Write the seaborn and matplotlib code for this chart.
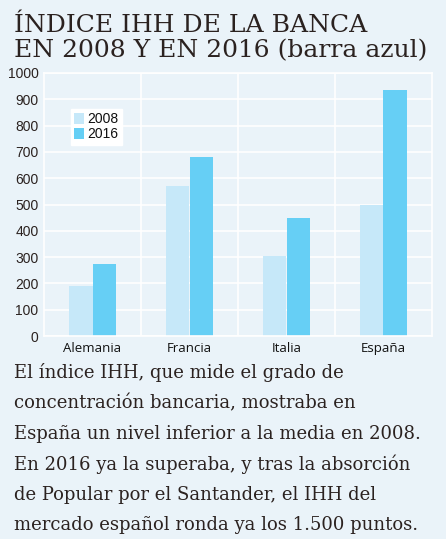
import matplotlib.pyplot as plt
import pandas as pd
import seaborn as sns

COUNTRIES = ["Alemania", "Francia", "Italia", "España"]
YEARS = ["2008", "2016"]
IHH_2008 = [190, 572, 304, 497]
IHH_2016 = [275, 682, 449, 937]
Y_TICKS = list(range(0, 1001, 100))

TITLE = ["ÍNDICE IHH DE LA BANCA", "EN 2008 Y EN 2016 (barra azul)"]
BODY = [
    "El índice IHH, que mide el grado de",
    "concentración bancaria, mostraba en",
    "España un nivel inferior a la media en 2008.",
    "En 2016 ya la superaba, y tras la absorción",
    "de Popular por el Santander, el IHH del",
    "mercado español ronda ya los 1.500 puntos.",
]

BG = "#eaf3f9"
COLORS = ["#c6e8f9", "#66cff5"]
TEXT = "#2b2220"


def main() -> None:
    df = pd.DataFrame({
        "pais": COUNTRIES * 2,
        "anio": [YEARS[0]] * 4 + [YEARS[1]] * 4,
        "ihh": IHH_2008 + IHH_2016,
    })

    sns.set_style("white")
    fig = plt.figure(figsize=(4.46, 5.39), dpi=100, facecolor=BG)
    ax = fig.add_axes([44 / 446, 1 - 336 / 539, 388 / 446, 263 / 539])
    ax.set_facecolor(BG)

    sns.barplot(data=df, x="pais", y="ihh", hue="anio", palette=COLORS,
                width=0.48, saturation=1, linewidth=0, ax=ax)
    for p in ax.patches:
        p.set_antialiased(False)

    ax.set_ylim(0, 1000)
    ax.set_xlim(-0.5, 3.5)
    ax.set_yticks(Y_TICKS)
    ax.set_yticklabels([str(v) for v in Y_TICKS], family="Liberation Sans",
                       fontsize=10, color=TEXT)
    ax.set_xticks(range(len(COUNTRIES)))
    ax.set_xticklabels(COUNTRIES, family="Open Sans", fontsize=9.5, color="#111111")
    ax.tick_params(axis="y", length=0, pad=4)
    ax.tick_params(axis="x", length=0, pad=4)
    ax.set_xlabel("")
    ax.set_ylabel("")

    ax.grid(axis="y", color="white", linewidth=1.2)
    for xv in [0.5, 1.5, 2.5]:
        ax.axvline(xv, color="white", linewidth=1.2, zorder=0)
    ax.set_axisbelow(True)
    for s in ax.spines.values():
        s.set_color("white")
        s.set_linewidth(1.2)

    leg = ax.legend(loc="upper left", bbox_to_anchor=(27 / 388, 1 - 36 / 263),
                    frameon=True, fancybox=False, framealpha=1,
                    edgecolor="white", facecolor="white",
                    prop={"family": "Liberation Sans", "size": 10},
                    handlelength=0.7, handleheight=0.8, handletextpad=0.2,
                    labelspacing=0.05, borderpad=0.25, borderaxespad=0)
    for t in leg.get_texts():
        t.set_color("#111111")

    # titulo en dos lineas
    for i, line in enumerate(TITLE):
        y = 31.5 + i * 25.5
        fig.text(14 / 446, 1 - y / 539, line, family="DejaVu Serif",
                 fontsize=18, color=TEXT, va="baseline", ha="left")

    for i, line in enumerate(BODY):
        y = 373 + i * 30.4
        fig.text(14 / 446, 1 - y / 539, line, family="DejaVu Serif", fontsize=13,
                 color=TEXT, va="center", ha="left")

    fig.savefig("out.png", dpi=100, facecolor=BG)


if __name__ == "__main__":
    main()
